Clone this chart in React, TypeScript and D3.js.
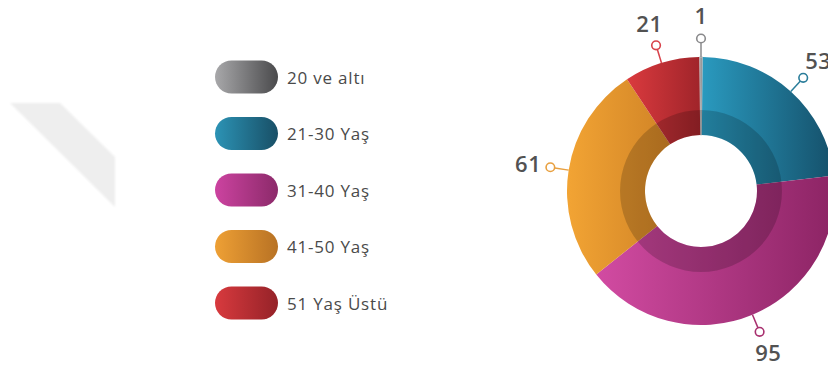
import React from "react";
import * as d3 from "d3";

const categories = ["20 ve altı", "21-30 Yaş", "31-40 Yaş", "41-50 Yaş", "51 Yaş Üstü"];
const values = [1, 53, 95, 61, 21];
const lightColors = ["#b4b4b6", "#2a9abf", "#d24ba2", "#f2a434", "#da3a3e"];
const darkColors = ["#8a8a8c", "#15506a", "#8c2464", "#d08326", "#a0242a"];
const pillLight = ["#a8a8aa", "#2c93b5", "#cc43a0", "#eea035", "#d83a3e"];
const pillDark = ["#4a4a4c", "#184f66", "#8c2a6a", "#b87224", "#952228"];
const markerColors = ["#8a8a8c", "#2a7d9a", "#a8306f", "#e8a040", "#d8424a"];

const W = 828;
const H = 365;
const cx = 701;
const cy = 191;
const rOuter = 134;
const rInner = 56;
const rRing = 81;
const offset = (-0.78 * Math.PI) / 180;

export default function App() {
  const pie = d3
    .pie<number>()
    .sort(null)
    .startAngle(offset)
    .endAngle(2 * Math.PI + offset)(values);
  const arc = d3.arc<d3.PieArcDatum<number>>().innerRadius(rInner).outerRadius(rOuter);
  const ring = d3.arc()({
    innerRadius: rInner,
    outerRadius: rRing,
    startAngle: 0,
    endAngle: 2 * Math.PI,
  } as any);

  const legendY = d3.scalePoint<string>().domain(categories).range([77, 303]);

  const pt = (a: number, r: number) => [cx + r * Math.sin(a), cy - r * Math.cos(a)];

  return (
    <div style={{ position: "fixed", left: 0, top: 0 }}>
      <svg width={W} height={H} style={{ display: "block", background: "#fff" }}>
        <defs>
          <filter id="soft" x="-10%" y="-10%" width="120%" height="120%">
            <feGaussianBlur stdDeviation="0.8" />
          </filter>
          {categories.map((c, i) => (
            <linearGradient key={"s" + i} id={"slice" + i} x1="0" y1="0" x2="1" y2="0">
              <stop offset="0%" stopColor={lightColors[i]} />
              <stop offset="100%" stopColor={darkColors[i]} />
            </linearGradient>
          ))}
          {categories.map((c, i) => (
            <linearGradient key={"p" + i} id={"pill" + i} x1="0" y1="0" x2="1" y2="0">
              <stop offset="0%" stopColor={pillLight[i]} />
              <stop offset="100%" stopColor={pillDark[i]} />
            </linearGradient>
          ))}
        </defs>

        <polygon points="10,103 60,103 115,157 115,207" fill="#eeeeee" filter="url(#soft)" />

        {categories.map((c, i) => {
          const y = legendY(c)!;
          return (
            <g key={c}>
              <rect x={215} y={y - 16.5} width={63} height={33} rx={16.5} fill={`url(#pill${i})`} />
              <text
                x={287}
                y={y}
                dominantBaseline="central"
                fontFamily="'Open Sans', sans-serif"
                fontSize={17}
                fontWeight={500}
                letterSpacing={0.8}
                fill="#4a4a4a"
              >
                {c}
              </text>
            </g>
          );
        })}

        <g>
          {pie.map((d, i) => (
            <path
              key={i}
              d={arc(d)!}
              transform={`translate(${cx},${cy})`}
              fill={`url(#slice${i})`}
              stroke={i === 0 ? "#c8c8c8" : "none"}
              strokeWidth={i === 0 ? 1 : 0}
            />
          ))}
          <path d={ring!} transform={`translate(${cx},${cy})`} fill="#000" opacity={0.18} />
        </g>

        {pie.map((d, i) => {
          const a = (d.startAngle + d.endAngle) / 2;
          const [x1, y1] = pt(a, rOuter);
          const [x2, y2] = pt(a, 148);
          const [xc, yc] = pt(a, 152.5);
          const [xl, yl] = pt(a, 175);
          return (
            <g key={"l" + i}>
              <line x1={x1} y1={y1} x2={x2} y2={y2} stroke={markerColors[i]} strokeWidth={1.5} />
              <circle cx={xc} cy={yc} r={4.3} fill="#fff" stroke={markerColors[i]} strokeWidth={1.6} />
              <text
                x={xl}
                y={yl - 1}
                textAnchor="middle"
                dominantBaseline="central"
                fontFamily="'Open Sans', sans-serif"
                fontSize={22}
                fontWeight={600}
                letterSpacing={0.5}
                fill="#525252"
              >
                {values[i]}
              </text>
            </g>
          );
        })}
      </svg>
    </div>
  );
}
